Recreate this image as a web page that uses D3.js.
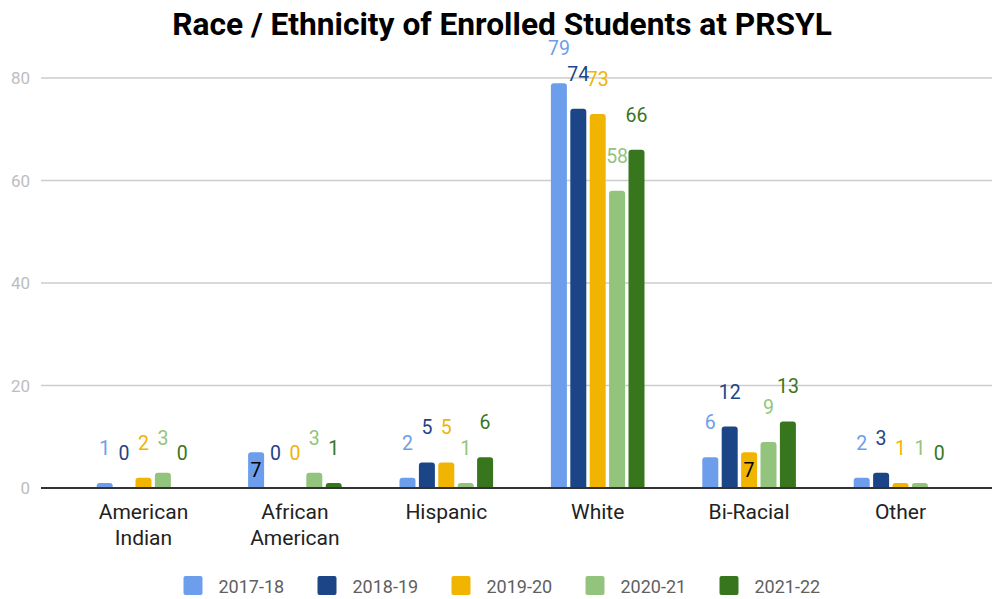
<!DOCTYPE html>
<html>
<head>
<meta charset="utf-8">
<script src="https://cdn.jsdelivr.net/npm/d3@7"></script>
<style>
  body { margin: 0; background: #fff; }
  svg { display: block; font-family: Roboto, "Noto Sans", sans-serif; }
</style>
</head>
<body>
<div id="chart"></div>
<script>
// data
const categories = ['American Indian', 'African American', 'Hispanic', 'White', 'Bi-Racial', 'Other'];
const seriesNames = ['2017-18', '2018-19', '2019-20', '2020-21', '2021-22'];
const v2017 = [1, 7, 2, 79, 6, 2];
const v2018 = [0, 0, 5, 74, 12, 3];
const v2019 = [2, 0, 5, 73, 7, 1];
const v2020 = [3, 3, 1, 58, 9, 1];
const v2021 = [0, 1, 6, 66, 13, 0];
const yTicks = [0, 20, 40, 60, 80];
const colors = ['#6d9eeb', '#1c4587', '#f1b400', '#93c47d', '#38761d'];
// labels that google drew inside the bar (series-category)
const insideLabels = ['0-1', '2-4'];

const seriesValues = [v2017, v2018, v2019, v2020, v2021];

const width = 992, height = 599;
const svg = d3.select('#chart').append('svg')
  .attr('width', width)
  .attr('height', height);

const x0 = d3.scaleBand().domain(categories).range([67.8, 976.2]);
const x1 = d3.scaleBand().domain(seriesNames).range([0, 93.6]).paddingInner(0.175);
const y = d3.scaleLinear().domain([0, 80]).range([488, 78]);

// title
svg.append('text')
  .attr('x', 502)
  .attr('y', 35)
  .attr('text-anchor', 'middle')
  .attr('font-size', 31.7)
  .attr('font-weight', 'bold')
  .attr('fill', '#000')
  .text('Race / Ethnicity of Enrolled Students at PRSYL');

// gridlines + tick labels
const grid = svg.append('g');
grid.selectAll('line')
  .data(yTicks.filter(d => d > 0))
  .enter().append('line')
  .attr('x1', 41).attr('x2', 992)
  .attr('y1', d => y(d)).attr('y2', d => y(d))
  .attr('stroke', '#cccccc')
  .attr('stroke-width', 1.3);
grid.selectAll('text')
  .data(yTicks)
  .enter().append('text')
  .attr('x', 30)
  .attr('y', d => y(d))
  .attr('dy', '0.36em')
  .attr('text-anchor', 'end')
  .attr('font-size', 17)
  .attr('fill', '#bdbdbd')
  .text(d => d);

// bars with rounded tops
function barPath(x, w, top, bottom) {
  const h = bottom - top;
  if (h <= 0) return '';
  const r = Math.min(3, h, w / 2);
  return 'M' + x + ',' + bottom +
    'V' + (top + r) +
    'Q' + x + ',' + top + ' ' + (x + r) + ',' + top +
    'H' + (x + w - r) +
    'Q' + (x + w) + ',' + top + ' ' + (x + w) + ',' + (top + r) +
    'V' + bottom + 'Z';
}

const groups = svg.selectAll('.grp')
  .data(categories)
  .enter().append('g')
  .attr('class', 'grp')
  .attr('transform', d => 'translate(' + x0(d) + ',0)');

const offset = (x0.bandwidth() - 93.6) / 2;

groups.selectAll('path')
  .data((c, ci) => seriesNames.map((s, si) => ({ s, si, ci, v: seriesValues[si][ci] })))
  .enter().append('path')
  .attr('d', d => barPath(offset + x1(d.s), x1.bandwidth(), y(d.v), y(0)))
  .attr('fill', d => colors[d.si]);

groups.selectAll('text.val')
  .data((c, ci) => seriesNames.map((s, si) => ({ s, si, ci, v: seriesValues[si][ci] })))
  .enter().append('text')
  .attr('class', 'val')
  .attr('x', d => offset + x1(d.s) + x1.bandwidth() / 2)
  .attr('y', d => insideLabels.includes(d.si + '-' + d.ci) ? y(d.v) + 25 : y(d.v) - 28)
  .attr('text-anchor', 'middle')
  .attr('font-size', 19.5)
  .attr('fill', d => insideLabels.includes(d.si + '-' + d.ci) ? '#000' : colors[d.si])
  .text(d => d.v);

// baseline
svg.append('line')
  .attr('x1', 41).attr('x2', 992)
  .attr('y1', y(0)).attr('y2', y(0))
  .attr('stroke', '#333333')
  .attr('stroke-width', 2);

// category labels, wrapped on spaces
const catLabels = svg.append('g');
categories.forEach(c => {
  const t = catLabels.append('text')
    .attr('x', x0(c) + x0.bandwidth() / 2)
    .attr('y', 519)
    .attr('text-anchor', 'middle')
    .attr('font-size', 21)
    .attr('fill', '#222222');
  c.split(' ').forEach((w, i) => {
    t.append('tspan')
      .attr('x', x0(c) + x0.bandwidth() / 2)
      .attr('dy', i === 0 ? 0 : 26)
      .text(w);
  });
});

// legend
const legend = svg.append('g').attr('transform', 'translate(183.5,0)');
const item = legend.selectAll('g')
  .data(seriesNames)
  .enter().append('g')
  .attr('transform', (d, i) => 'translate(' + i * 134 + ',0)');
item.append('rect')
  .attr('x', 0).attr('y', 576)
  .attr('width', 19).attr('height', 19)
  .attr('rx', 2)
  .attr('fill', (d, i) => colors[i]);
item.append('text')
  .attr('x', 35)
  .attr('y', 593)
  .attr('font-size', 18)
  .attr('fill', '#5f5f5f')
  .text(d => d);
</script>
</body>
</html>
